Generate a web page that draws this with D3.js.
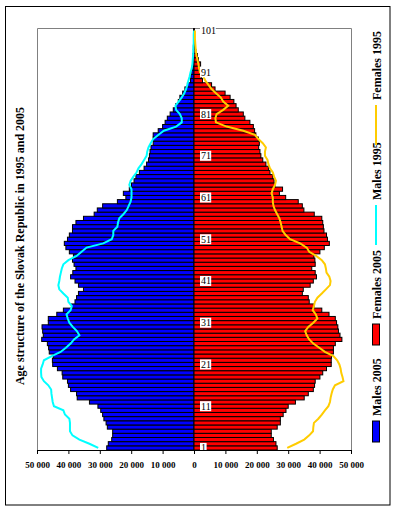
<!DOCTYPE html>
<html lang="en">
	<head>
		<meta charset="utf-8">
		<title>Age structure of the Slovak Republic</title>
		<script src="https://d3js.org/d3.v7.js"></script>
		<style>
			body { margin: 0; background: white; }
			svg { display: block; }
		</style>
	</head>

	<body>
		<script>
			// ages 1..101 (one bar per category, bottom to top)
			const ages = d3.range(1, 102);
			const labelAges = [1, 11, 21, 31, 41, 51, 61, 71, 81, 91, 101];
			const ticks = [-50000, -40000, -30000, -20000, -10000, 0, 10000, 20000, 30000, 40000, 50000];

			const males2005 = [
				27800, 27300, 26200, 25900, 25900, 27600, 28000, 28700, 29100, 29700,
				30600, 33300, 37200, 37400, 39300, 40000, 40300, 41800, 42000, 43500,
				45000, 45100, 44800, 46100, 46300, 46700, 48500, 48000, 48200, 48400,
				46400, 46400, 43700, 41600, 39000, 37900, 37400, 36800, 35200, 36800,
				37900, 39300, 38600, 37600, 38200, 38700, 38400, 39700, 40800, 41300,
				40300, 39700, 38700, 38700, 37600, 35200, 31800, 30800, 29100, 24400,
				21700, 22500, 20600, 19900, 19100, 18500, 17400, 15900, 15100, 14500,
				14200, 14000, 13700, 13000, 13000, 13000, 11400, 10000, 9200, 8500,
				7600, 6600, 5800, 5000, 4500, 3600, 2900, 2100, 1100, 1000,
				700, 600, 400, 400, 300, 200, 200, 100, 100, 100, 100
			];

			const females2005 = [
				26500, 26100, 25300, 24600, 24600, 26500, 27500, 27500, 28400, 29300,
				30000, 32300, 35100, 36400, 38000, 38400, 38600, 40100, 41000, 42200,
				43700, 43700, 43800, 44400, 44400, 45000, 47100, 46500, 46000, 45800,
				45400, 45000, 43000, 40700, 38200, 36700, 36400, 34500, 34800, 37000,
				38000, 39000, 38600, 37500, 38600, 38500, 38200, 40100, 41500, 43100,
				42500, 42200, 41400, 41200, 41000, 40700, 38300, 35000, 34500, 33200,
				29200, 27200, 28200, 25800, 25500, 25100, 24200, 23700, 22900, 21900,
				21300, 21000, 20600, 20800, 20500, 19700, 19300, 18900, 17800, 16200,
				15700, 14100, 13400, 12700, 11500, 9900, 6700, 5600, 2700, 2400,
				1900, 1700, 2100, 1400, 1100, 600, 300, 200, 100, 100, 100
			];

			const males1995 = [
				30500, 33300, 36500, 38700, 39500, 39500, 39500, 39700, 41100, 41600,
				44600, 45000, 45200, 45400, 45500, 46400, 47800, 48600, 48700, 48700,
				48200, 47800, 45300, 42500, 40800, 39300, 38200, 36500, 37300, 38600,
				39700, 40200, 40600, 39300, 38900, 40000, 40200, 41600, 42900, 43200,
				42900, 42700, 42400, 42100, 41600, 40000, 37400, 35800, 34200, 28900,
				26200, 25700, 25700, 24400, 24200, 23800, 22500, 21400, 20800, 20200,
				19900, 19900, 19900, 20600, 20200, 19300, 18300, 17700, 16700, 15900,
				15100, 14900, 14500, 13800, 13000, 11400, 9600, 5700, 3900, 3900,
				4500, 5700, 5900, 4900, 3900, 3100, 2500, 2100, 1800, 1400,
				1100, 700, 500, 400, 300, 200, 200, 100, 100, 100, 0
			];

			const females1995 = [
				29700, 32500, 35100, 36700, 37900, 38000, 38200, 39600, 40700, 41700,
				42800, 43300, 43500, 43800, 44200, 44900, 47600, 47300, 46900, 46700,
				46300, 45600, 44400, 41700, 39900, 38000, 36700, 35900, 35400, 36400,
				38000, 39300, 38800, 37800, 38200, 38500, 39300, 40700, 42000, 43300,
				43500, 43100, 42200, 42000, 41700, 40700, 38900, 36700, 35900, 33800,
				30600, 29200, 28200, 27900, 27600, 27200, 26500, 25800, 25300, 25100,
				25100, 24700, 25100, 25800, 26100, 25500, 25100, 24200, 23700, 23400,
				22600, 22600, 22900, 21900, 20500, 19400, 15700, 10400, 7000, 6800,
				7200, 9300, 10900, 9300, 8500, 7000, 5600, 4600, 3600, 3000,
				1900, 1600, 1400, 1100, 800, 600, 500, 400, 300, 300, 300
			];

			const legendItems = ["Males 2005", "Females 2005", "Males 1995", "Females 1995"];

			const w = 395;
			const h = 511;
			const margin = {top: 28.5, right: 44, bottom: 61, left: 37};

			const svg = d3.select("body")
				.append("svg")
				.attr("width", w)
				.attr("height", h);

			// outer frame
			svg.append("rect")
				.attr("x", 5.5)
				.attr("y", 6.5)
				.attr("width", 384.5)
				.attr("height", 498.5)
				.attr("fill", "white")
				.attr("stroke", "black")
				.attr("stroke-width", 1);

			const xScale = d3.scaleLinear()
				.domain([-50000, 50000])
				.range([margin.left, w - margin.right]);

			const yScale = d3.scaleBand()
				.domain(ages)
				.range([h - margin.bottom, margin.top])
				.padding(0);

			// plot area outline (grey)
			svg.append("path")
				.attr("d", `M${xScale(-50000) + 0.5},${h - margin.bottom} V${margin.top} H${xScale(50000) + 0.5} V${h - margin.bottom}`)
				.attr("fill", "none")
				.attr("stroke", "#808080")
				.attr("stroke-width", 1);

			const rows = ages.map((a, i) => ({age: a, m05: males2005[i], f05: females2005[i], m95: males1995[i], f95: females1995[i]}));

			svg.selectAll("rect.male")
				.data(rows)
				.enter().append("rect")
				.attr("class", "male")
				.attr("x", d => xScale(-d.m05))
				.attr("y", d => yScale(d.age))
				.attr("width", d => xScale(0) - xScale(-d.m05))
				.attr("height", yScale.bandwidth())
				.attr("fill", "#0000ff")
				.attr("stroke", "black")
				.attr("stroke-width", 1);

			svg.selectAll("rect.female")
				.data(rows)
				.enter().append("rect")
				.attr("class", "female")
				.attr("x", xScale(0))
				.attr("y", d => yScale(d.age))
				.attr("width", d => xScale(d.f05) - xScale(0))
				.attr("height", yScale.bandwidth())
				.attr("fill", "#ff0000")
				.attr("stroke", "black")
				.attr("stroke-width", 1);

			const yMid = d => yScale(d.age) + yScale.bandwidth() / 2;

			const maleLine = d3.line()
				.x(d => xScale(-d.m95))
				.y(yMid);

			const femaleLine = d3.line()
				.x(d => xScale(d.f95))
				.y(yMid);

			svg.append("path")
				.datum(rows)
				.attr("d", maleLine)
				.attr("fill", "none")
				.attr("stroke", "#00ffff")
				.attr("stroke-width", 2);

			svg.append("path")
				.datum(rows)
				.attr("d", femaleLine)
				.attr("fill", "none")
				.attr("stroke", "#ffcc00")
				.attr("stroke-width", 2);

			// age labels with white boxes
			const lab = svg.selectAll("g.agelab")
				.data(labelAges)
				.enter().append("g")
				.attr("class", "agelab")
				.attr("transform", d => `translate(${xScale(0) + 6}, ${yScale(d) + yScale.bandwidth() / 2})`);

			lab.append("rect")
				.attr("x", 0)
				.attr("y", -5)
				.attr("width", d => String(d).length * 4.6 + 2)
				.attr("height", 10)
				.attr("fill", "white");

			lab.append("text")
				.attr("x", 1)
				.attr("y", 0)
				.attr("dy", "0.35em")
				.attr("font-family", "Liberation Serif")
				.attr("font-size", "10px")
				.attr("fill", "black")
				.text(d => d);

			// x axis
			const fmt = v => d3.format(",")(Math.abs(v)).replace(",", " ");
			const xAxis = d3.axisBottom(xScale)
				.tickValues(ticks)
				.tickFormat(fmt)
				.tickSize(4)
				.tickSizeOuter(0)
				.tickPadding(8);

			const gx = svg.append("g")
				.attr("class", "xAxis")
				.attr("transform", `translate(0, ${h - margin.bottom})`)
				.call(xAxis);

			gx.select(".domain").attr("stroke", "black");
			gx.selectAll(".tick line").attr("stroke", "black");
			gx.selectAll("text")
				.attr("font-family", "Liberation Serif")
				.attr("font-weight", "bold")
				.attr("font-size", "9px")
				.attr("fill", "black");

			// title (rotated)
			svg.append("text")
				.attr("transform", "translate(24, 246) rotate(-90)")
				.attr("text-anchor", "middle")
				.attr("font-family", "Liberation Serif")
				.attr("font-weight", "bold")
				.attr("font-size", "12px")
				.attr("fill", "black")
				.text("Age structure of the Slovak Republic in 1995 and 2005");

			// legend (rotated, bottom to top)
			const legendStart = [442, 345, 245, 145];
			const legendColors = ["#0000ff", "#ff0000", "#00ffff", "#ffcc00"];
			const lx = 376;

			legendItems.forEach((name, i) => {
				const y0 = legendStart[i];
				if (i < 2) {
					svg.append("rect")
						.attr("x", lx - 3.5)
						.attr("y", y0 - 21)
						.attr("width", 7)
						.attr("height", 21)
						.attr("fill", legendColors[i])
						.attr("stroke", "black")
						.attr("stroke-width", 1);
				} else {
					svg.append("line")
						.attr("x1", lx)
						.attr("x2", lx)
						.attr("y1", y0)
						.attr("y2", y0 - 40)
						.attr("stroke", legendColors[i])
						.attr("stroke-width", 2);
				}
				const ty = i < 2 ? y0 - 26 : y0 - 45;
				svg.append("text")
					.attr("transform", `translate(${lx + 5}, ${ty}) rotate(-90)`)
					.attr("text-anchor", "start")
					.attr("font-family", "Liberation Serif")
					.attr("font-weight", "bold")
					.attr("font-size", "12px")
					.attr("fill", "black")
					.text(name);
			});
		</script>
	</body>
</html>
